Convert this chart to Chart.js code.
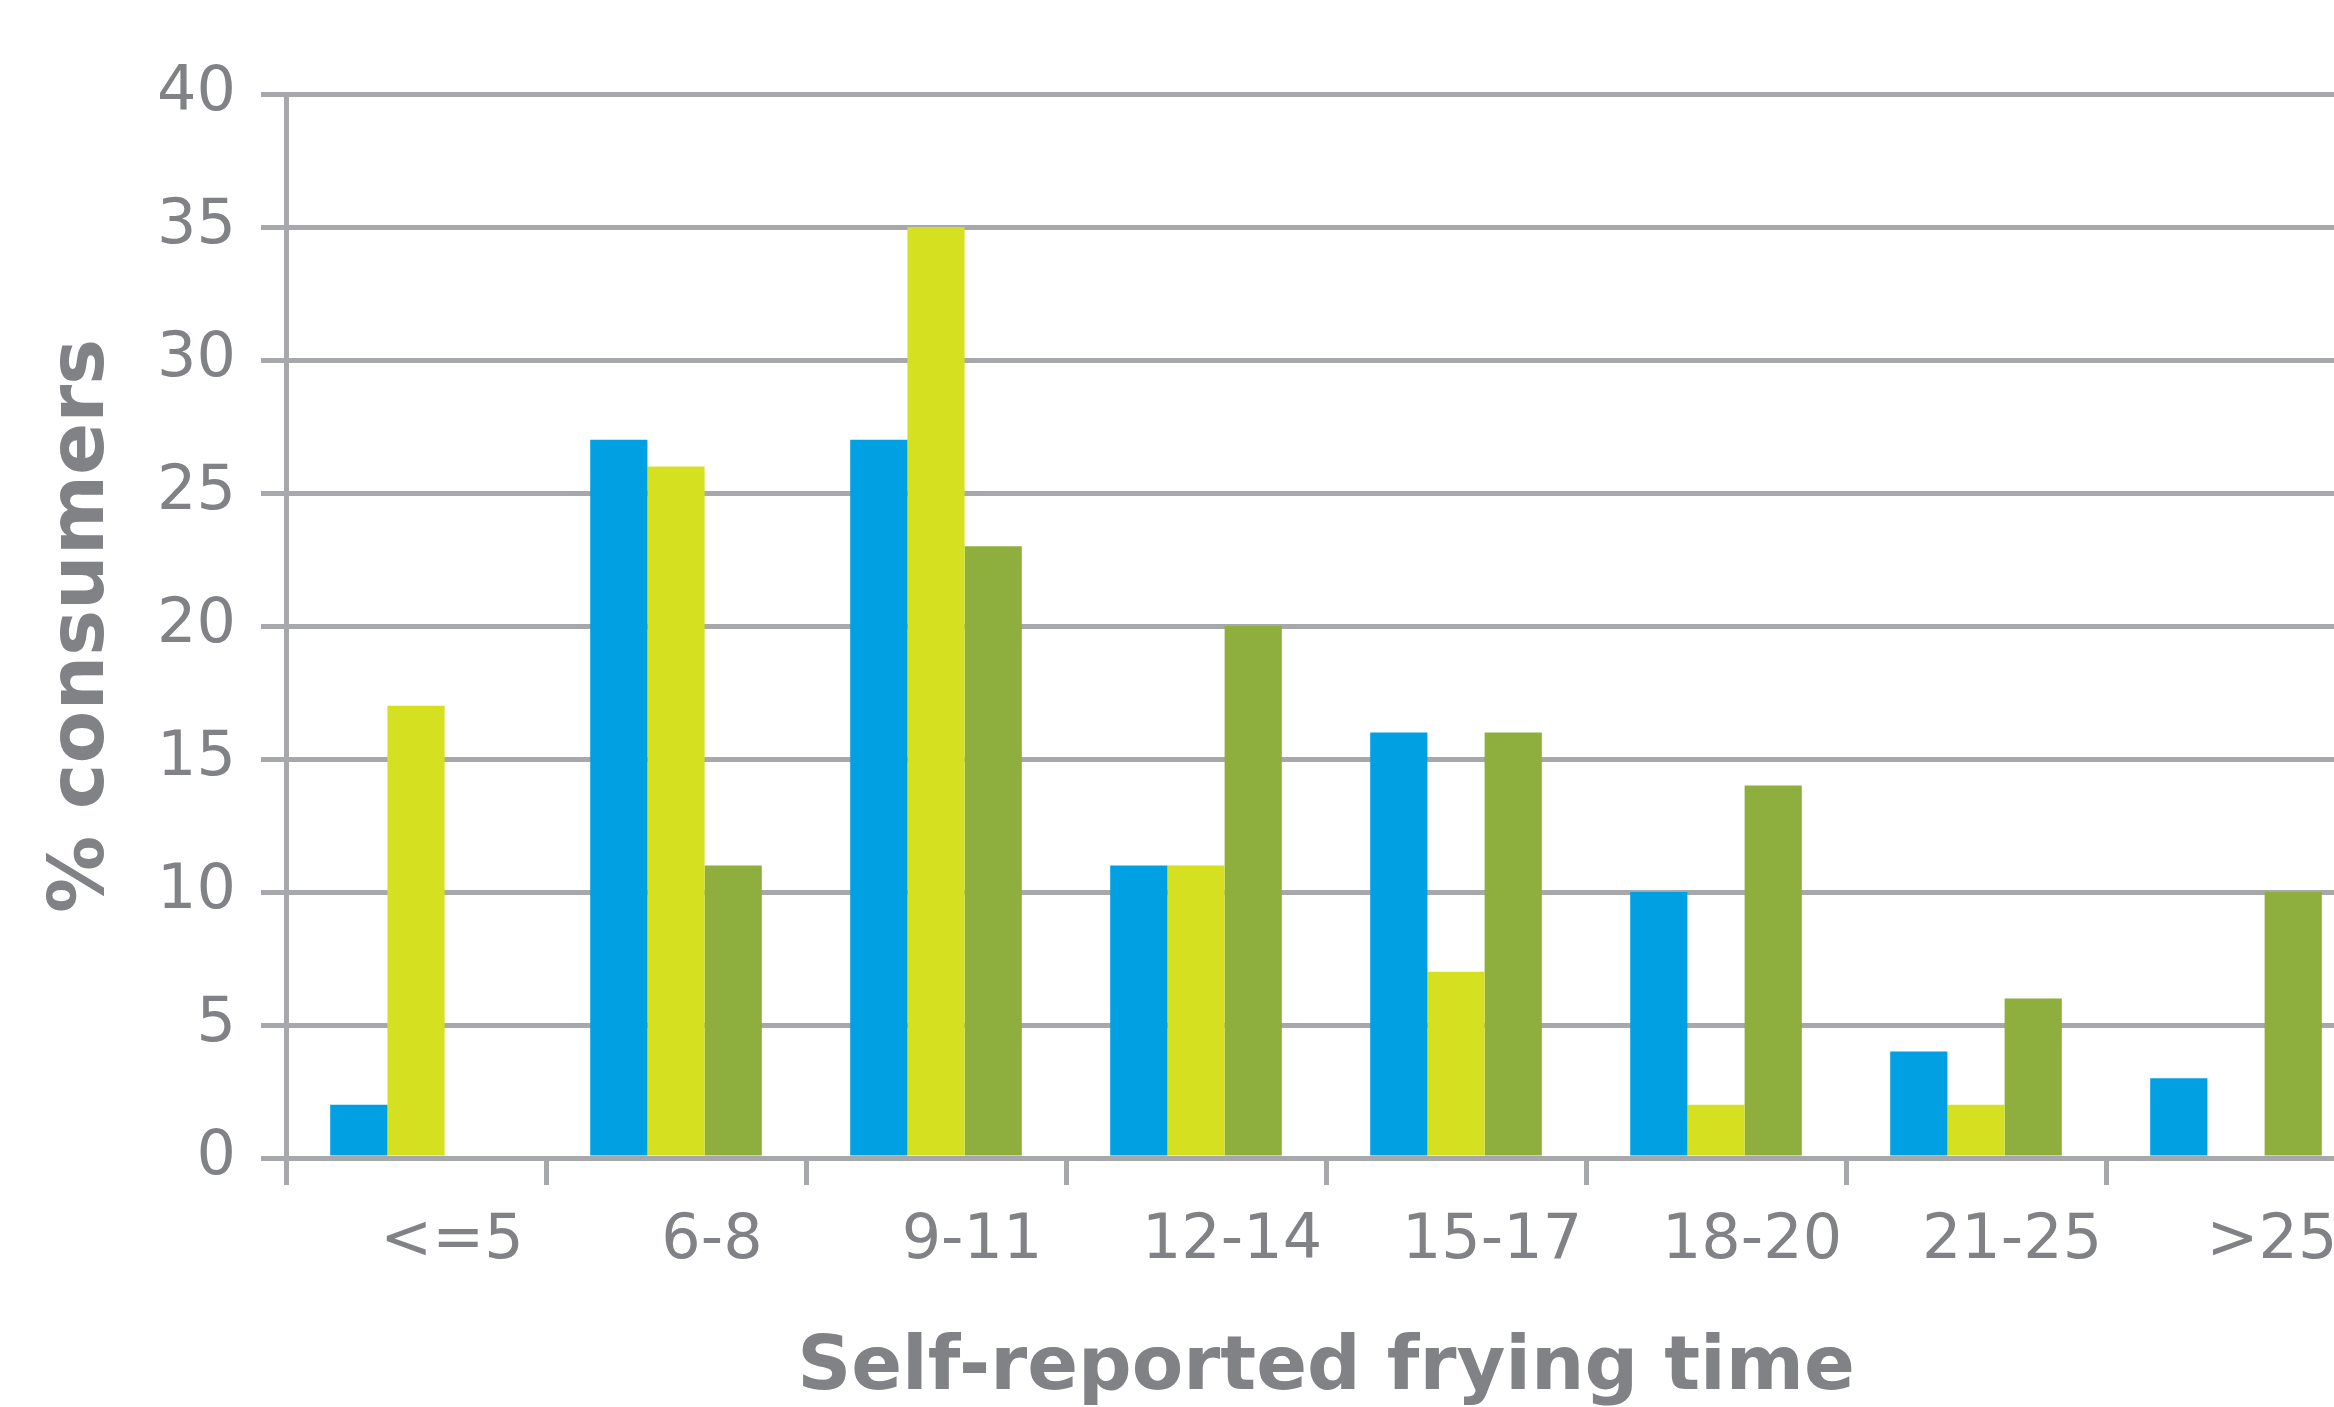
<!DOCTYPE html>
<html>
<head>
<meta charset="utf-8">
<script src="https://cdn.jsdelivr.net/npm/chart.js@4"></script>
<style>
  html, body { margin: 0; padding: 0; background: #ffffff; overflow: hidden; }
  #wrap { width: 2334px; height: 1407px; overflow: hidden; position: relative; }
  canvas { display: block; }
</style>
</head>
<body>
<div id="wrap"><canvas id="c" width="2366" height="1407" style="width:2366px;height:1407px"></canvas></div>
<script>
const categories = ["<=5", "6-8", "9-11", "12-14", "15-17", "18-20", "21-25", ">25"];
const seriesNames = ["Series 1", "Series 2", "Series 3"];
const seriesBlue = [2, 27, 27, 11, 16, 10, 4, 3];
const seriesYellow = [17, 26, 35, 11, 7, 2, 2, 0];
const seriesGreen = [0, 11, 23, 20, 16, 14, 6, 10];
const yTicks = [0, 5, 10, 15, 20, 25, 30, 35, 40];
const xTitle = "Self-reported frying time";
const yTitle = "% consumers";

const GRID = "#a7a8ab";
const TEXT = "#808285";
const FONT = "'DejaVu Sans', Verdana, sans-serif";

new Chart(document.getElementById("c"), {
  type: "bar",
  data: {
    labels: categories,
    datasets: [
      { label: seriesNames[0], data: seriesBlue, backgroundColor: "#00a0e2" },
      { label: seriesNames[1], data: seriesYellow, backgroundColor: "#d5e021" },
      { label: seriesNames[2], data: seriesGreen, backgroundColor: "#8eaf3e" }
    ]
  },
  options: {
    responsive: false,
    animation: false,
    devicePixelRatio: 1,
    layout: { padding: { top: 94, left: 0, right: 0, bottom: 0 } },
    datasets: { bar: { categoryPercentage: 0.66, barPercentage: 1.0, borderWidth: 0 } },
    plugins: { legend: { display: false }, tooltip: { enabled: false } },
    scales: {
      x: {
        offset: true,
        grid: { display: true, drawOnChartArea: false, drawTicks: true, tickLength: 27, offset: true, color: GRID, lineWidth: 5 },
        border: { display: true, color: GRID, width: 5 },
        ticks: { color: TEXT, font: { family: FONT, size: 62 }, padding: 20, labelOffset: 36, maxRotation: 0, autoSkip: false },
        title: { display: true, text: xTitle, color: TEXT, font: { family: FONT, size: 75, weight: "bold", lineHeight: 1 }, padding: { top: 0, bottom: 0 } },
        afterFit: (s) => { s.height = 249; }
      },
      y: {
        min: yTicks[0],
        max: yTicks[yTicks.length - 1],
        afterBuildTicks: (s) => { s.ticks = yTicks.map(v => ({ value: v })); },
        grid: { display: true, drawOnChartArea: true, drawTicks: true, tickLength: 25, color: GRID, lineWidth: 5 },
        border: { display: true, color: GRID, width: 5 },
        ticks: { color: TEXT, font: { family: FONT, size: 62 }, padding: 25, labelOffset: 0 },
        title: { display: true, text: yTitle, color: TEXT, font: { family: FONT, size: 77, weight: "bold", lineHeight: 1 }, padding: { top: 44, bottom: 0 } },
        afterFit: (s) => { s.width = 286; }
      }
    }
  }
});
</script>
</body>
</html>
